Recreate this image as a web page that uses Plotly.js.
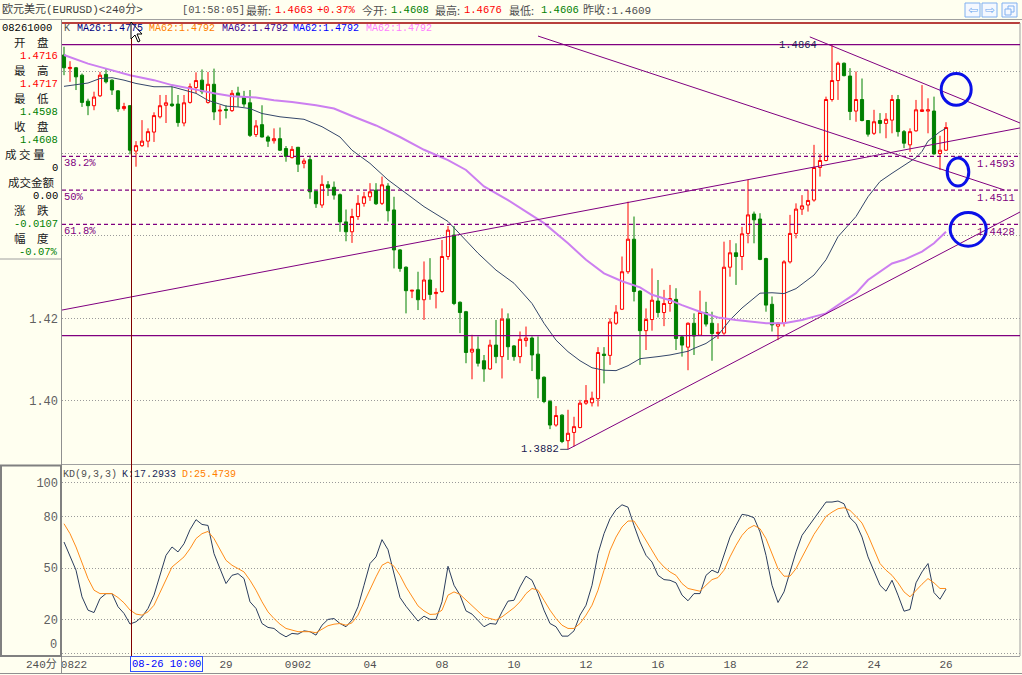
<!DOCTYPE html>
<html><head><meta charset="utf-8">
<script src="https://cdn.plot.ly/plotly-3.0.1.min.js"></script>
<style>html,body{margin:0;padding:0;background:#fffff0;overflow:hidden}</style>
</head><body><div id="chart" style="width:1022px;height:675px"></div>
<script>
// ---------- DATA ----------
const openP = [1.4839,1.4806,1.4808,1.4790,1.4727,1.4716,1.4740,1.4792,1.4778,1.4752,1.4709,1.4716,1.4606,1.4619,1.4630,1.4652,1.4689,1.4717,1.4720,1.4720,
1.4674,1.4724,1.4760,1.4778,1.4724,1.4768,1.4703,1.4707,1.4704,1.4747,1.4737,1.4723,1.4646,1.4670,1.4640,1.4631,1.4636,1.4612,1.4590,1.4615,
1.4576,1.4585,1.4508,1.4475,1.4524,1.4518,1.4500,1.4434,1.4410,1.4447,1.4479,1.4495,1.4511,1.4479,1.4521,1.4463,1.4366,1.4324,1.4266,1.4269,
1.4245,1.4293,1.4260,1.4265,1.4350,1.4402,1.4239,1.4216,1.4118,1.4125,1.4097,1.4077,1.4135,1.4107,1.4198,1.4133,1.4107,1.4146,1.4152,1.4113,
1.4057,1.3998,1.3941,1.3965,1.3903,1.3923,1.3935,1.3994,1.3995,1.4005,1.4113,1.4110,1.4188,1.4222,1.4313,1.4392,1.4266,1.4170,1.4197,1.4242,
1.4214,1.4236,1.4246,1.4155,1.4130,1.4188,1.4159,1.4214,1.4188,1.4163,1.4164,1.4324,1.4359,1.4350,1.4406,1.4453,1.4441,1.4345,1.4234,1.4181,
1.4188,1.4337,1.4406,1.4465,1.4475,1.4487,1.4566,1.4583,1.4731,1.4777,1.4819,1.4788,1.4703,1.4731,1.4680,1.4649,1.4680,1.4673,1.4681,1.4731,
1.4653,1.4621,1.4655,1.4702,1.4703,1.4703,1.4600,1.4608];
const highP = [1.4859,1.4824,1.4810,1.4794,1.4733,1.4750,1.4798,1.4805,1.4780,1.4754,1.4723,1.4717,1.4630,1.4681,1.4661,1.4700,1.4742,1.4742,1.4762,1.4742,
1.4742,1.4770,1.4797,1.4804,1.4798,1.4806,1.4717,1.4717,1.4754,1.4762,1.4752,1.4754,1.4681,1.4717,1.4644,1.4661,1.4663,1.4618,1.4618,1.4616,
1.4588,1.4595,1.4510,1.4547,1.4533,1.4532,1.4503,1.4464,1.4466,1.4499,1.4507,1.4528,1.4528,1.4544,1.4528,1.4495,1.4368,1.4326,1.4269,1.4313,
1.4338,1.4346,1.4273,1.4390,1.4424,1.4424,1.4241,1.4218,1.4160,1.4156,1.4111,1.4148,1.4196,1.4224,1.4212,1.4135,1.4168,1.4180,1.4156,1.4156,
1.4059,1.4002,1.3987,1.3967,1.3978,1.3961,1.4002,1.4038,1.4022,1.4130,1.4130,1.4200,1.4232,1.4350,1.4483,1.4447,1.4268,1.4224,1.4321,1.4293,
1.4269,1.4281,1.4273,1.4159,1.4190,1.4212,1.4267,1.4240,1.4216,1.4188,1.4386,1.4390,1.4382,1.4422,1.4536,1.4459,1.4455,1.4347,1.4253,1.4190,
1.4341,1.4451,1.4479,1.4499,1.4512,1.4621,1.4599,1.4738,1.4864,1.4823,1.4821,1.4807,1.4799,1.4782,1.4681,1.4706,1.4698,1.4698,1.4742,1.4742,
1.4657,1.4661,1.4730,1.4766,1.4734,1.4738,1.4643,1.4676];
const lowP = [1.4790,1.4774,1.4754,1.4713,1.4693,1.4705,1.4737,1.4770,1.4742,1.4701,1.4704,1.4598,1.4568,1.4616,1.4615,1.4628,1.4685,1.4674,1.4713,1.4665,
1.4666,1.4721,1.4746,1.4744,1.4721,1.4681,1.4669,1.4685,1.4701,1.4713,1.4713,1.4640,1.4640,1.4639,1.4616,1.4624,1.4606,1.4580,1.4588,1.4555,
1.4564,1.4490,1.4468,1.4468,1.4497,1.4488,1.4410,1.4387,1.4383,1.4439,1.4471,1.4485,1.4475,1.4475,1.4435,1.4321,1.4313,1.4212,1.4249,1.4220,
1.4196,1.4245,1.4224,1.4262,1.4342,1.4232,1.4164,1.4091,1.4052,1.4083,1.4046,1.4075,1.4091,1.4054,1.4099,1.4097,1.4091,1.4131,1.4072,1.4006,
1.3994,1.3931,1.3937,1.3897,1.3882,1.3889,1.3933,1.3990,1.3986,1.3986,1.4042,1.4087,1.4184,1.4220,1.4308,1.4241,1.4087,1.4123,1.4170,1.4202,
1.4181,1.4216,1.4123,1.4107,1.4074,1.4111,1.4157,1.4180,1.4097,1.4150,1.4160,1.4301,1.4281,1.4317,1.4382,1.4382,1.4341,1.4216,1.4168,1.4147,
1.4180,1.4333,1.4394,1.4451,1.4459,1.4483,1.4544,1.4581,1.4726,1.4730,1.4787,1.4681,1.4677,1.4678,1.4641,1.4645,1.4649,1.4637,1.4649,1.4641,
1.4613,1.4604,1.4653,1.4702,1.4649,1.4597,1.4560,1.4606];
const closeP = [1.4808,1.4809,1.4786,1.4724,1.4716,1.4737,1.4790,1.4774,1.4754,1.4708,1.4714,1.4608,1.4619,1.4630,1.4653,1.4692,1.4716,1.4723,1.4716,1.4675,
1.4723,1.4762,1.4777,1.4750,1.4768,1.4701,1.4705,1.4705,1.4746,1.4740,1.4720,1.4644,1.4667,1.4640,1.4630,1.4636,1.4608,1.4593,1.4610,1.4574,
1.4582,1.4507,1.4478,1.4525,1.4517,1.4499,1.4434,1.4410,1.4447,1.4479,1.4495,1.4507,1.4478,1.4524,1.4461,1.4366,1.4321,1.4267,1.4268,1.4245,
1.4293,1.4258,1.4263,1.4350,1.4414,1.4236,1.4214,1.4117,1.4125,1.4091,1.4077,1.4135,1.4107,1.4198,1.4131,1.4107,1.4149,1.4152,1.4111,1.4053,
1.3998,1.3941,1.3964,1.3901,1.3921,1.3937,1.3994,1.4000,1.4006,1.4117,1.4110,1.4191,1.4215,1.4313,1.4392,1.4265,1.4170,1.4197,1.4244,1.4214,
1.4236,1.4248,1.4151,1.4135,1.4188,1.4157,1.4214,1.4186,1.4163,1.4166,1.4324,1.4359,1.4350,1.4405,1.4451,1.4439,1.4343,1.4232,1.4184,1.4188,
1.4337,1.4406,1.4465,1.4473,1.4486,1.4566,1.4583,1.4731,1.4777,1.4819,1.4789,1.4702,1.4731,1.4680,1.4647,1.4677,1.4673,1.4683,1.4731,1.4653,
1.4625,1.4653,1.4706,1.4706,1.4706,1.4599,1.4608,1.4663];

const kVals = [65.3,57.5,48.8,33.2,25.4,24.0,32.2,35.1,35.1,27.4,23.5,17.3,18.6,21.5,26.4,34.2,45.8,57.5,62.4,59.5,
64.3,72.5,78.4,75.6,75.0,58.5,49.7,41.0,45.8,46.8,43.9,30.3,26.4,17.6,15.3,14.7,11.8,9.8,11.8,11.4,
13.3,12.8,10.8,16.6,20.0,20.5,17.6,15.7,19.6,27.4,40.0,52.7,56.6,66.7,60.8,46.8,32.8,27.7,23.5,19.0,
21.9,20.0,20.0,30.3,51.1,40.0,34.2,25.0,23.1,19.2,15.7,17.6,17.2,24.4,30.7,31.2,39.0,
45.3,42.9,35.1,25.4,17.6,15.7,10.2,10.2,13.3,22.5,28.3,40.0,58.5,70.2,78.9,84.2,87.1,85.7,75.0,65.3,
57.5,53.6,45.8,43.3,42.9,41.4,34.2,30.9,35.1,35.1,45.8,48.8,47.2,57.5,68.2,75.0,81.5,80.9,79.5,71.2,
57.5,40.0,29.9,36.1,47.8,59.5,69.2,74.1,78.9,83.8,88.7,88.7,89.3,87.7,79.5,76.0,68.2,56.6,48.8,40.0,
36.5,42.9,34.2,24.8,25.8,41.4,47.8,52.7,35.7,31.8,37.7];
const dVals = [76.0,70.2,62.4,52.7,43.9,37.1,35.1,35.1,35.1,32.8,29.7,25.5,23.1,22.5,24.4,28.3,36.1,42.9,50.7,53.6,
56.6,61.4,67.3,70.2,71.5,67.3,60.8,54.6,51.7,49.7,47.8,42.9,37.1,30.3,24.4,20.5,17.2,14.7,13.7,12.8,
12.8,12.8,12.2,14.1,16.3,17.2,17.6,16.6,18.0,22.5,30.3,38.1,44.9,51.7,53.6,51.1,45.8,39.0,33.2,27.9,
25.0,22.9,23.1,25.4,34.2,36.1,34.6,31.2,27.9,24.4,21.5,20.5,19.6,21.5,24.0,26.8,30.3,
35.1,38.1,37.1,31.2,25.4,20.5,16.6,14.7,14.7,17.6,22.5,28.3,37.1,48.8,60.4,68.2,74.1,77.6,77.6,72.1,
66.3,60.4,54.6,50.7,47.8,45.8,41.0,38.1,37.5,36.5,40.0,43.3,44.5,48.8,56.6,63.4,69.2,73.1,75.0,73.1,
67.3,58.5,49.7,45.3,45.3,49.7,56.6,63.4,69.8,75.0,80.3,82.8,84.8,85.4,83.8,80.3,76.4,69.2,60.4,52.7,
48.8,45.8,41.4,36.1,33.2,37.1,40.6,43.9,41.4,38.1,38.1];
const kdLegendK = "K:17.2933", kdLegendD = "D:25.4739";

const ma26X = [0,4,6,8,10,12,15,18,22,24,27,29,31,33,36,40,43,46,48,51,54,57,60,64,67,69,72,75,78,80,82,84,86,88,90,92,94,96,99,101,104,105,107,109,111,113,116,118,120,122,125,127,129,132,134,136,138,140,142,143,144,146,147];
const ma26Y = [1.4763,1.4771,1.4782,1.4784,1.4778,1.4770,1.4762,1.4762,1.4746,1.4729,1.4715,1.4713,1.4709,1.4697,1.4689,1.4683,1.4665,1.4640,1.4608,1.4576,1.4536,1.4503,1.4471,1.4435,1.4390,1.4358,1.4317,1.4285,1.4236,1.4188,1.4147,1.4119,1.4097,1.4080,1.4074,1.4073,1.4085,1.4102,1.4107,1.4111,1.4120,1.4127,1.4139,1.4159,1.4196,1.4225,1.4261,1.4262,1.4260,1.4272,1.4305,1.4342,1.4398,1.4447,1.4495,1.4532,1.4552,1.4572,1.4590,1.4605,1.4630,1.4653,1.4661];
const ma62X = [0,4,7,11,15,18,22,25,28,32,35,38,42,45,48,52,56,60,64,67,70,74,77,80,84,87,90,93,96,98,101,103,106,109,112,115,117,120,123,125,127,129,132,134,136,138,140,143,145,147];
const ma62Y = [1.4839,1.4818,1.4806,1.4790,1.4778,1.4766,1.4755,1.4746,1.4739,1.4736,1.4729,1.4725,1.4717,1.4709,1.4691,1.4668,1.4640,1.4609,1.4584,1.4560,1.4520,1.4487,1.4459,1.4431,1.4382,1.4342,1.4309,1.4290,1.4275,1.4257,1.4244,1.4232,1.4216,1.4202,1.4196,1.4192,1.4188,1.4188,1.4196,1.4204,1.4212,1.4232,1.4261,1.4293,1.4313,1.4333,1.4342,1.4362,1.4382,1.4410];

const dateTickPos  = [1.67,27,39,51,63,75,87,99,111,123,135,147];
const dateTickText = ["0822","29","0902","04","08","10","12","16","18","22","24","26"];
const priceTicks = [1.40,1.42,1.44,1.46,1.48];
const priceTickText = ["1.40","1.42","","",""];
const kdTicks = [0,20,50,80,100];
const kdTickText = ["","20","50","80","100"];

const swingHigh = 1.4864, swingLow = 1.3882, swingHighIdx = 128, swingLowIdx = 84;
const rangeLow = 1.4158;
const fibPrices = [1.4593,1.4511,1.4428];
const fibText = ["38.2%","50%","61.8%"];
const fibPriceText = ["1.4593","1.4511","1.4428"];
const trendLines = [[-0.333,1.4220,159.333,1.4662],[79,1.4885,156.8,1.4511],[124.3,1.4883,159.333,1.4674],[84,1.3882,159.333,1.4458]];
const circles = [[146.2,1.4717,151.2,1.4794],[147.2,1.4521,150.8,1.4589],[147.7,1.4375,153.7,1.4457]];
const cursorIdx = 11.25;

// ---------- LAYOUT HELPERS ----------
const W=1022,H=675,ML=62,MR=2,MT=23,MB=19;
const PW=W-ML-MR, PH=H-MT-MB;
const px=x=>(x-ML)/PW, py=y=>(H-MB-y)/PH;
const MONO="Liberation Mono, DejaVu Sans Mono, Noto Sans CJK SC, monospace";
const CJK="Noto Sans CJK SC, sans-serif";
const XR=[-0.333,159.333];
const idx = openP.map((_,i)=>i);

function t(s,x,y,color,size,anchor,family){
  return {text:s,xref:'paper',yref:'paper',x:px(x),y:py(y),xanchor:anchor||'left',yanchor:'middle',
    showarrow:false,borderpad:0,font:{family:family||MONO,size:size||10.5,color:color||'#444'}};
}
function pline(x0,y0,x1,y1,color,w,dash){
  return {type:'line',xref:'paper',yref:'paper',x0:px(x0),y0:py(y0),x1:px(x1),y1:py(y1),
    line:{color:color,width:w||1,dash:dash||'solid'},layer:'above'};
}

const annotations=[];
const shapes=[];
// header
annotations.push(t("欧元美元(EURUSD)<240分>",1,10,'#404040',11));
annotations.push(t("[01:58:05]",181,10,'#505050',10.5));
annotations.push(t("最新:",245,10,'#505050',11,'left',CJK));
annotations.push(t("1.4663",274,10,'#ff0000',10.5));
annotations.push(t("+0.37%",316,10,'#ff0000',10.5));
annotations.push(t("今开:",361,10,'#505050',11,'left',CJK));
annotations.push(t("1.4608",390,10,'#008000',10.5));
annotations.push(t("最高:",434,10,'#505050',11,'left',CJK));
annotations.push(t("1.4676",463,10,'#ff0000',10.5));
annotations.push(t("最低:",508,10,'#505050',11,'left',CJK));
annotations.push(t("1.4606",540,10,'#008000',10.5));
annotations.push(t("昨收:1.4609",582,10,'#505050',11));
// second row / MA legend
annotations.push(t("08261000",1,28,'#000000',10.5));
annotations.push(t("K",63,28,'#505050',10));
annotations.push(t("MA26:1.4775",76,28,'#000080',10));
annotations.push(t("MA62:1.4792",148,28,'#ff8000',10));
annotations.push(t("MA62:1.4792",221,28,'#400090',10));
annotations.push(t("MA62:1.4792",292,28,'#0000ff',10));
annotations.push(t("MA62:1.4792",365,28,'#ff80ff',10));
// left info panel
const lab=[["开　盘",13,42],["最　高",13,70],["最　低",13,98],["收　盘",13,126],["成 交 量",4,154],["成交金额",7,182],["涨　跌",13,210],["幅　度",13,238]];
lab.forEach(a=>annotations.push(t(a[0],a[1],a[2],'#202020',11.5,'left',CJK)));
const vals=[["1.4716",56,'#ff0000'],["1.4717",84,'#ff0000'],["1.4598",112,'#008000'],["1.4608",140,'#008000'],["0",168,'#000000'],["0.00",196,'#000000'],["-0.0107",224,'#008000'],["-0.07%",252,'#008000']];
vals.forEach(v=>annotations.push(t(v[0],59,v[1],v[2],10.5,'right')));
// fib labels
fibPrices.forEach((p,k)=>{
  annotations.push({text:fibText[k],xref:'x',yref:'y',x:XR[0]+0.1,y:p,xanchor:'left',yanchor:'top',yshift:0,showarrow:false,borderpad:0,font:{family:MONO,size:10.5,color:'#800080'}});
  annotations.push({text:fibPriceText[k],xref:'x',yref:'y',x:158.7,y:p,xanchor:'right',yanchor:'top',yshift:-1,showarrow:false,borderpad:0,font:{family:MONO,size:10.5,color:'#800080'}});
});
// swing labels
annotations.push({text:swingHigh.toFixed(4),xref:'x',yref:'y',x:swingHighIdx-2.3,y:swingHigh,xanchor:'right',yanchor:'middle',showarrow:false,borderpad:0,font:{family:MONO,size:10.5,color:'#202050'}});
annotations.push({text:swingLow.toFixed(4),xref:'x',yref:'y',x:swingLowIdx-1.4,y:swingLow,xanchor:'right',yanchor:'middle',showarrow:false,borderpad:0,font:{family:MONO,size:10.5,color:'#202050'}});
// KD legend
annotations.push(t("KD(9,3,3)",62,474,'#505050',10));
annotations.push(t(kdLegendK,121,474,'#1a2a5a',10));
annotations.push(t(kdLegendD,181,474,'#ff8000',10));
annotations.push(t("0",58,645,'#606060',12,'right'));
// bottom
annotations.push(t("240分",25,664,'#505050',11));
annotations.push({text:"08-26 10:00",xref:'paper',yref:'paper',x:px(166),y:py(664),xanchor:'center',yanchor:'middle',showarrow:false,
  bgcolor:'#fffff0',bordercolor:'#3050ff',borderwidth:1,borderpad:1,font:{family:MONO,size:10.5,color:'#0000ff'}});
// window buttons
[[965,"⇦"],[982,"⇨"]].forEach(b=>{
  shapes.push({type:'rect',xref:'paper',yref:'paper',x0:px(b[0]),x1:px(b[0]+15),y0:py(17),y1:py(3),line:{color:'#80b0f0',width:1},fillcolor:'#f4f8ff',layer:'above'});
  annotations.push({text:b[1],xref:'paper',yref:'paper',x:px(b[0]+7.5),y:py(10),xanchor:'center',yanchor:'middle',showarrow:false,borderpad:0,font:{family:'DejaVu Sans',size:12,color:'#70a8ee'}});
});
shapes.push({type:'rect',xref:'paper',yref:'paper',x0:px(1002),x1:px(1017),y0:py(17),y1:py(3),line:{color:'#80b0f0',width:1},fillcolor:'#f4f8ff',layer:'above'});
shapes.push({type:'rect',xref:'paper',yref:'paper',x0:px(1008),x1:px(1014),y0:py(12),y1:py(6),line:{color:'#80b0f0',width:1},fillcolor:'rgba(0,0,0,0)',layer:'above'});
shapes.push({type:'rect',xref:'paper',yref:'paper',x0:px(1005),x1:px(1011),y0:py(15),y1:py(9),line:{color:'#80b0f0',width:1},fillcolor:'#f4f8ff',layer:'above'});

// frame
shapes.push(pline(0,19.5,1022,19.5,'#a0a0a0',1));
shapes.push(pline(62,23,1020,23,'#a00000',1.5));
shapes.push(pline(61.5,19.5,61.5,673,'#909090',1));
shapes.push(pline(1020,23,1020,656,'#a0a0a0',1));
shapes.push(pline(62,464.5,1020,464.5,'#a0a0a0',1));
shapes.push(pline(0,656.5,1020,656.5,'#a0a0a0',1));
shapes.push(pline(0,673.5,1022,673.5,'#909090',1));
shapes.push(pline(0,259,61,259,'#a0a0a0',1));
shapes.push({type:'rect',xref:'paper',yref:'paper',x0:px(1),x1:px(61),y0:py(656),y1:py(465.5),line:{color:'#808080',width:2},fillcolor:'rgba(0,0,0,0)',layer:'above'});
// horizontal levels
[swingHigh,rangeLow].forEach(p=>shapes.push({type:'line',xref:'x',yref:'y',x0:XR[0],x1:XR[1],y0:p,y1:p,line:{color:'#800080',width:1.2},layer:'above'}));
fibPrices.forEach(p=>shapes.push({type:'line',xref:'x',yref:'y',x0:XR[0],x1:XR[1],y0:p,y1:p,line:{color:'#800080',width:1.2,dash:'4px,3px'},layer:'above'}));
trendLines.forEach(l=>shapes.push({type:'line',xref:'x',yref:'y',x0:l[0],y0:l[1],x1:l[2],y1:l[3],line:{color:'#800080',width:1},layer:'above'}));
shapes.push({type:'line',xref:'x',yref:'y',x0:swingLowIdx-1.3,x1:swingLowIdx,y0:swingLow,y1:swingLow,line:{color:'#404060',width:1},layer:'above'});
circles.forEach(c=>shapes.push({type:'circle',xref:'x',yref:'y',x0:c[0],y0:c[1],x1:c[2],y1:c[3],line:{color:'#0a10e8',width:3},layer:'above'}));
// crosshair
shapes.push({type:'line',xref:'x',yref:'paper',x0:cursorIdx,x1:cursorIdx,y0:0,y1:py(23),line:{color:'#800000',width:1},layer:'above'});
// mouse cursor
const cur=[[131,22],[131,39],[135,35],[138,42],[140,41],[137,34],[142,34]];
shapes.push({type:'path',xref:'paper',yref:'paper',path:'M'+cur.map(p=>px(p[0])+','+py(p[1])).join(' L')+' Z',fillcolor:'#ffffff',line:{color:'#000000',width:1},layer:'above'});

const traces=[
 {type:'candlestick',x:idx,open:openP,high:highP,low:lowP,close:closeP,xaxis:'x',yaxis:'y',
  increasing:{line:{color:'#ff0000',width:1},fillcolor:'#fffff0'},
  decreasing:{line:{color:'#008000',width:1},fillcolor:'#008000'},whiskerwidth:0,hoverinfo:'skip'},
 {type:'scatter',mode:'lines',x:ma26X,y:ma26Y,xaxis:'x',yaxis:'y',line:{color:'#34466a',width:1},hoverinfo:'skip'},
 {type:'scatter',mode:'lines',x:ma62X,y:ma62Y,xaxis:'x',yaxis:'y',line:{color:'#cc7ff0',width:2},hoverinfo:'skip'},
 {type:'scatter',mode:'lines',x:idx,y:kVals,xaxis:'x2',yaxis:'y2',line:{color:'#2b3d5e',width:1},hoverinfo:'skip'},
 {type:'scatter',mode:'lines',x:idx,y:dVals,xaxis:'x2',yaxis:'y2',line:{color:'#ff8c1a',width:1},hoverinfo:'skip'}
];

const GRID={showgrid:true,gridcolor:'#9a9a9a',griddash:'1px,2px',gridwidth:1};
const layout={
 width:W,height:H,margin:{l:ML,r:MR,t:MT,b:MB,pad:0},
 paper_bgcolor:'#fffff0',plot_bgcolor:'#fffff0',showlegend:false,hovermode:false,dragmode:false,
 boxgap:0.25,
 xaxis:{domain:[0,1],range:XR,anchor:'y',showticklabels:false,showgrid:false,zeroline:false,showline:false,ticks:'',rangeslider:{visible:false},fixedrange:true},
 xaxis2:{domain:[0,1],range:XR,anchor:'y2',tickmode:'array',tickvals:dateTickPos,ticktext:dateTickText,ticks:'',showgrid:false,zeroline:false,showline:false,
   tickfont:{family:MONO,size:11,color:'#505050'},fixedrange:true},
 yaxis:Object.assign({domain:[py(464),1],range:[1.38464,1.49167],anchor:'x',tickmode:'array',tickvals:priceTicks,ticktext:priceTickText,ticks:'',
   zeroline:false,showline:false,ticklabelstandoff:3,tickfont:{family:MONO,size:12,color:'#606060'},fixedrange:true},GRID),
 yaxis2:Object.assign({domain:[0,py(465.5)],range:[-1.43,110.1],anchor:'x2',tickmode:'array',tickvals:kdTicks,ticktext:kdTickText,ticks:'',
   zeroline:false,showline:false,ticklabelstandoff:3,tickfont:{family:MONO,size:12,color:'#606060'},fixedrange:true},GRID),
 annotations:annotations,shapes:shapes
};
Plotly.newPlot('chart',traces,layout,{staticPlot:true,displayModeBar:false});
</script></body></html>
